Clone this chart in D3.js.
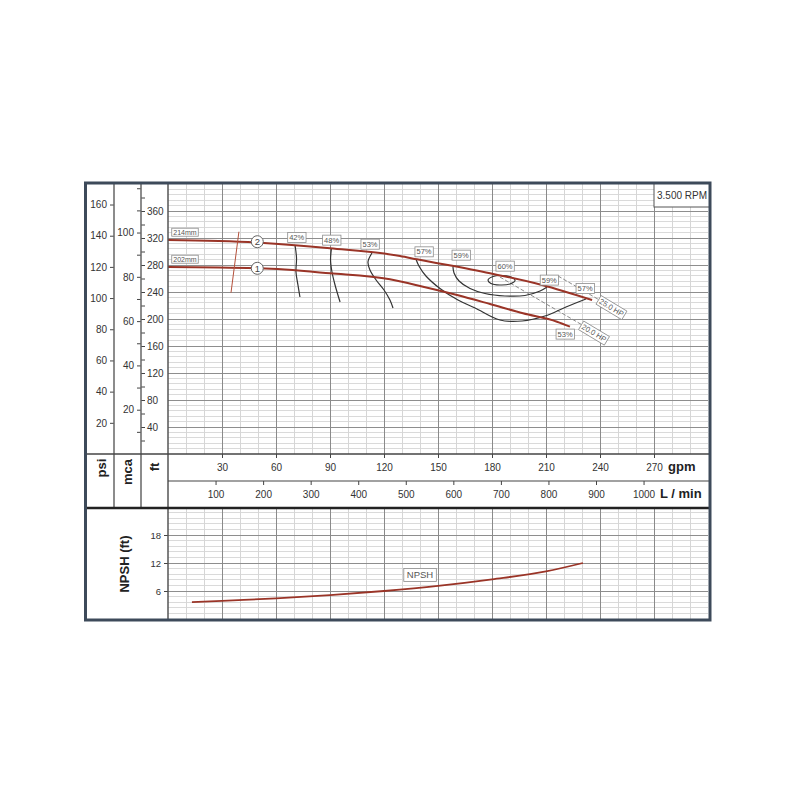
<!DOCTYPE html>
<html>
<head>
<meta charset="utf-8">
<script src="https://cdn.jsdelivr.net/npm/d3@7"></script>
<style>
body { margin: 0; background: white; }
text { font-family: "Liberation Sans", Arial, sans-serif; }
</style>
</head>
<body>
<div id="chart"></div>
<script>
// axis ticks
var gpm_ticks = [30, 60, 90, 120, 150, 180, 210, 240, 270];
var lmin_ticks = [100, 200, 300, 400, 500, 600, 700, 800, 900, 1000];
var psi_ticks = [20, 40, 60, 80, 100, 120, 140, 160];
var mca_ticks = [10, 20, 30, 40, 50, 60, 70, 80, 90, 100, 110, 120];
var mca_labels = [20, 40, 60, 80, 100];
var ft_ticks = [20, 40, 60, 80, 100, 120, 140, 160, 180, 200, 220, 240, 260, 280, 300, 320, 340, 360, 380];
var ft_labels = [40, 80, 120, 160, 200, 240, 280, 320, 360];
var npsh_ticks = [6, 12, 18];

// head curves [gpm, ft]
var curve_214 = [[0, 317], [51.1, 313], [90, 304.7], [128.9, 293.3], [138.3, 288.4], [178.9, 267.7], [207.8, 250.4], [235.6, 228.1]];
var curve_202 = [[0, 277], [51.1, 275.1], [90, 267.7], [123.3, 258.8], [141.7, 247.9], [160.6, 235.6], [178.9, 222.2], [197.2, 208.4], [216.1, 196], [223.3, 188.6]];
var min_line = [[39.4, 329.3], [35, 239]];
var dia_labels = [["214mm", 9.4, 328.5], ["202mm", 9.4, 288.5]];
var dia_marks = [["2", 49.6, 314.5], ["1", 49.6, 275.1]];

// efficiency curves [gpm, ft]
var eff_42 = [[70.6, 308.9], [71.4, 290.4], [71.1, 269.6], [72.2, 250.4], [73.3, 232.6]];
var eff_48 = [[90.8, 304.4], [90.3, 287.4], [91.1, 269.6], [92.8, 250.4], [94.4, 235.6], [95.6, 225.2]];
var eff_53 = [[113.3, 297.8], [111.1, 284.4], [112.2, 272.6], [115.6, 257.8], [120, 243], [123.3, 228.1], [125, 216.3]];
var eff_57 = [[137.8, 288.6], [139.4, 278.5], [143.3, 263.7], [151.1, 245.2], [161.1, 228.1], [170.6, 216.3], [184.4, 198.5], [196.7, 197], [209.4, 204.4], [221.1, 217.8], [232.2, 229.6]];
var eff_59 = [[158.3, 277.8], [158.9, 268.1], [161.7, 256.3], [167.8, 245.2], [176.1, 237.8], [187.2, 234.1], [198.3, 234.8], [206.7, 241.5], [210.6, 247.4]];
var eff_60 = [[177.8, 257.8], [180.6, 263], [185.6, 264.4], [190.6, 262.2], [192.8, 257], [190, 251.9], [184.4, 250.4], [179.4, 252.6]];
var eff_labels = [["42%", 71.5, 321], ["48%", 90.9, 317], ["53%", 112.2, 311], ["57%", 142.2, 299.7], ["59%", 162.8, 294.8],
  ["60%", 187.2, 278.5], ["59%", 211.8, 257.8], ["57%", 231.7, 245.5], ["53%", 220.6, 177.8]];

// power lines
var hp_25 = [[216.7, 263.7], [240.6, 226.7]];
var hp_20 = [[184.4, 262.2], [231.1, 189.6]];
var hp_labels = [["25.0 HP", 246.4, 217], ["20.0 HP", 236.7, 179.3]];

// npsh [gpm, ft]
var npsh_curve = [[13.3, 3.6], [30, 3.9], [60, 4.4], [90, 5.1], [120, 6.0], [150, 7.1], [180, 8.5], [210, 10.2], [230.5, 12.0]];

var FT_PER_PSI = 2.31;
var FT_PER_M = 3.281;
var LMIN_PER_GPM = 3.785;

class PUMPCHART {
  constructor(target_div_id) {
    this.target_div = target_div_id;
    this.SVG = "None";
    this.main;
    this.x = d3.scaleLinear().domain([0, 300]).range([168, 708]);
    this.xL = d3.scaleLinear().domain([0, 300 * LMIN_PER_GPM]).range([168, 708]);
    this.yFt = d3.scaleLinear().domain([0, 400]).range([454, 184]);
    this.yPsi = d3.scaleLinear().domain([0, 400 / FT_PER_PSI]).range([454, 184]);
    this.yM = d3.scaleLinear().domain([0, 400 / FT_PER_M]).range([454, 184]);
    this.yN = d3.scaleLinear().domain([0, 24]).range([619, 507]);
  }

  baseSVG() {
    this.SVG = d3.select("#" + this.target_div).append("svg")
      .attr("width", 800).attr("height", 800);
    this.main = this.SVG.append("g");
    this.main.append("rect").attr("width", 800).attr("height", 800).attr("fill", "white");
  }

  writeGrid(ys, step_minor, step_major) {
    var x = this.x;
    var g = this.main.append("g").attr("shape-rendering", "crispEdges");
    var dom = ys.domain();
    var y0 = ys.range()[0], y1 = ys.range()[1];
    var vmin = d3.range(10, 300, 10).filter(d => d % 30 != 0);
    var vmaj = d3.range(30, 300, 30);
    var hmin = d3.range(step_minor, dom[1], step_minor).filter(d => Math.abs(d / step_major - Math.round(d / step_major)) > 1e-6);
    var hmaj = d3.range(step_major, dom[1] - 0.01, step_major);

    g.selectAll(".hmin").data(hmin).enter().append("line")
      .attr("x1", 168).attr("x2", 708).attr("y1", d => ys(d)).attr("y2", d => ys(d))
      .attr("stroke", "#dadada").attr("stroke-width", 1);
    g.selectAll(".vmin").data(vmin).enter().append("line")
      .attr("x1", d => x(d)).attr("x2", d => x(d)).attr("y1", y0).attr("y2", y1)
      .attr("stroke", "#d6d6d6").attr("stroke-width", 1);
    g.selectAll(".hmaj").data(hmaj).enter().append("line")
      .attr("x1", 168).attr("x2", 708).attr("y1", d => ys(d)).attr("y2", d => ys(d))
      .attr("stroke", "#8e8e8e").attr("stroke-width", 1);
    g.selectAll(".vmaj").data(vmaj).enter().append("line")
      .attr("x1", d => x(d)).attr("x2", d => x(d)).attr("y1", y0).attr("y2", y1)
      .attr("stroke", "#8a8a8a").attr("stroke-width", 1);
  }

  styleAxis(g, size) {
    g.select(".domain").remove();
    g.selectAll(".tick line").attr("stroke", "#444");
    g.selectAll(".tick text").attr("fill", "#333")
      .style("font-size", size + "px").style("font-family", "'Liberation Sans', Arial, sans-serif");
  }

  writeAxes() {
    var m = this.main;
    var fmt_mca = d => mca_labels.includes(d) ? d : "";
    var fmt_ft = d => ft_labels.includes(d) ? d : "";
    var plain = d3.format("d");

    this.styleAxis(m.append("g").attr("transform", "translate(114,0)")
      .call(d3.axisLeft(this.yPsi).tickValues(psi_ticks).tickSize(4).tickPadding(3)), 10);
    this.styleAxis(m.append("g").attr("transform", "translate(141,0)")
      .call(d3.axisLeft(this.yM).tickValues(mca_ticks).tickFormat(fmt_mca).tickSize(4).tickPadding(3)), 10);
    this.styleAxis(m.append("g").attr("transform", "translate(141,0)")
      .call(d3.axisRight(this.yFt).tickValues(ft_ticks).tickFormat(fmt_ft).tickSize(4).tickPadding(2)), 10);
    this.styleAxis(m.append("g").attr("transform", "translate(0,454)")
      .call(d3.axisBottom(this.x).tickValues(gpm_ticks).tickSize(4).tickPadding(6)), 10);
    this.styleAxis(m.append("g").attr("transform", "translate(0,481)")
      .call(d3.axisBottom(this.xL).tickValues(lmin_ticks).tickFormat(plain).tickSize(4).tickPadding(6)), 10);
    this.styleAxis(m.append("g").attr("transform", "translate(168,0)")
      .call(d3.axisLeft(this.yN).tickValues(npsh_ticks).tickSize(4).tickPadding(3)), 9.5);

    // unit titles
    var bold = (t, x, y, rot) => m.append("text")
      .attr("transform", "translate(" + x + "," + y + ") rotate(" + rot + ")")
      .attr("text-anchor", rot ? "middle" : "start").attr("dy", rot ? "0.35em" : 0)
      .style("font-size", "13px").style("font-weight", "bold").attr("fill", "#222").text(t);
    bold("psi", 101, 468, -90);
    bold("mca", 127, 472, -90);
    bold("ft", 154, 467, -90);
    bold("NPSH (ft)", 124, 564, -90);
    bold("gpm", 668, 471, 0);
    bold("L / min", 660, 498, 0);
  }

  boxLabel(txt, px, py, size, rot, pad) {
    pad = pad || 1.5;
    var grp = this.main.append("g").attr("transform", "translate(" + px + "," + py + ") rotate(" + rot + ")");
    var rect = grp.append("rect");
    var t = grp.append("text").attr("text-anchor", "middle").attr("dy", "0.35em")
      .style("font-size", size + "px").attr("fill", "#555").text(txt);
    var bb = t.node().getBBox();
    rect.attr("x", bb.x - pad).attr("y", bb.y - pad / 3).attr("width", bb.width + 2 * pad).attr("height", bb.height + 2 * pad / 3)
      .attr("fill", "white").attr("stroke", "#8c8c8c").attr("stroke-width", 0.8);
  }

  writeCurves() {
    var x = this.x, y = this.yFt, m = this.main;
    var smooth = d3.line().x(d => x(d[0])).y(d => y(d[1])).curve(d3.curveCatmullRom);
    var mono = d3.line().x(d => x(d[0])).y(d => y(d[1])).curve(d3.curveMonotoneX);
    var straight = d3.line().x(d => x(d[0])).y(d => y(d[1]));
    var closed = d3.line().x(d => x(d[0])).y(d => y(d[1])).curve(d3.curveCatmullRomClosed);

    // power lines
    [hp_25, hp_20].forEach(function (p) {
      m.append("path").attr("d", straight(p)).attr("fill", "none")
        .attr("stroke", "#8a8a8a").attr("stroke-width", 1).attr("stroke-dasharray", "4,2");
    });

    // efficiency
    [eff_42, eff_48, eff_53, eff_57, eff_59].forEach(function (e) {
      m.append("path").attr("d", smooth(e)).attr("fill", "none")
        .attr("stroke", "#333").attr("stroke-width", 1.2);
    });
    m.append("path").attr("d", closed(eff_60)).attr("fill", "none")
      .attr("stroke", "#333").attr("stroke-width", 1.2);

    // head curves
    [curve_214, curve_202].forEach(function (c) {
      m.append("path").attr("d", mono(c)).attr("fill", "none")
        .attr("stroke", "#9a3427").attr("stroke-width", 2);
    });
    m.append("path").attr("d", straight(min_line)).attr("fill", "none")
      .attr("stroke", "#b4503b").attr("stroke-width", 1);

    for (var i = 0; i < dia_marks.length; i++) {
      var d = dia_marks[i];
      m.append("circle").attr("cx", x(d[1])).attr("cy", y(d[2])).attr("r", 6)
        .attr("fill", "white").attr("stroke", "#666").attr("stroke-width", 1);
      m.append("text").attr("x", x(d[1])).attr("y", y(d[2])).attr("dy", "0.35em")
        .attr("text-anchor", "middle").style("font-size", "9.5px").attr("fill", "#444").text(d[0]);
    }
    for (var i = 0; i < dia_labels.length; i++) {
      this.boxLabel(dia_labels[i][0], x(dia_labels[i][1]), y(dia_labels[i][2]), 7, 0);
    }
    for (var i = 0; i < eff_labels.length; i++) {
      this.boxLabel(eff_labels[i][0], x(eff_labels[i][1]), y(eff_labels[i][2]), 7.5, 0);
    }
    for (var i = 0; i < hp_labels.length; i++) {
      this.boxLabel(hp_labels[i][0], x(hp_labels[i][1]), y(hp_labels[i][2]), 7.5, 31);
    }
  }

  writeNpsh() {
    var x = this.x, y = this.yN;
    var line = d3.line().x(d => x(d[0])).y(d => y(d[1])).curve(d3.curveMonotoneX);
    this.main.append("path").attr("d", line(npsh_curve)).attr("fill", "none")
      .attr("stroke", "#9a3427").attr("stroke-width", 1.8);
    this.boxLabel("NPSH", x(140), y(9.4), 9.5, 0, 3);
  }

  writeFrame() {
    var m = this.main;
    var ln = (x1, y1, x2, y2, c, w) => m.append("line")
      .attr("x1", x1).attr("y1", y1).attr("x2", x2).attr("y2", y2)
      .attr("stroke", c).attr("stroke-width", w);
    ln(114, 183, 114, 508, "#666", 1.5);
    ln(141, 183, 141, 508, "#666", 1.5);
    ln(168, 183, 168, 620, "#555", 1.5);
    ln(85, 454, 710, 454, "#444", 1.5);
    ln(168, 481, 710, 481, "#444", 1.2);
    ln(85, 508, 710, 508, "#222", 2.5);

    // rpm box
    m.append("rect").attr("x", 654).attr("y", 183).attr("width", 56).attr("height", 24)
      .attr("fill", "white").attr("stroke", "#555").attr("stroke-width", 1);
    m.append("text").attr("x", 682).attr("y", 199).attr("text-anchor", "middle")
      .style("font-size", "10px").attr("fill", "#333").text("3.500 RPM");

    m.append("rect").attr("x", 85.5).attr("y", 183).attr("width", 624.5).attr("height", 437)
      .attr("fill", "none").attr("stroke", "#3d4a5a").attr("stroke-width", 3);
  }
}

var chart = new PUMPCHART("chart");
chart.baseSVG();
chart.writeGrid(chart.yFt, 8, 40);
chart.writeGrid(chart.yN, 1.2, 6);
chart.writeAxes();
chart.writeCurves();
chart.writeNpsh();
chart.writeFrame();
</script>
</body>
</html>
